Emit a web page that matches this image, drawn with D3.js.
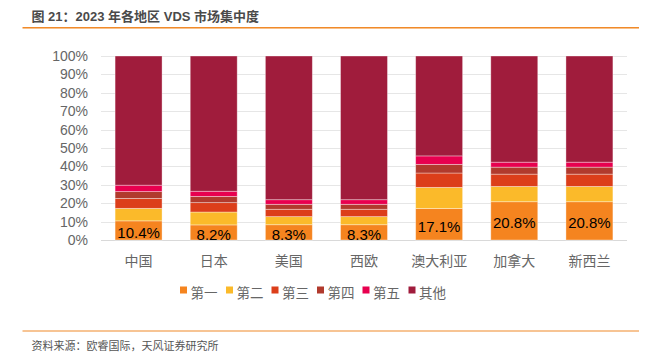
<!DOCTYPE html>
<html><head><meta charset="utf-8">
<script src="https://cdn.jsdelivr.net/npm/d3@7"></script>
<style>body{margin:0;background:#fff;}svg{display:block;font-family:"Liberation Sans","Noto Sans CJK SC",sans-serif;}</style>
</head><body>
<svg id="c" width="647" height="360"></svg>
<script>
const regions = ["中国","日本","美国","西欧","澳大利亚","加拿大","新西兰"];
const seriesNames = ["第一","第二","第三","第四","第五","其他"];
const first  = [10.4, 8.2, 8.3, 8.3, 17.1, 20.8, 20.8];
const second = [6.8, 7.0, 4.4, 4.4, 11.5, 8.3, 8.3];
const third  = [5.4, 5.1, 4.0, 4.0, 7.8, 6.7, 6.7];
const fourth = [3.7, 3.4, 2.7, 2.7, 4.7, 3.8, 3.8];
const fifth  = [3.5, 2.8, 2.5, 2.5, 4.6, 2.7, 2.7];
const other  = [70.2, 73.5, 78.1, 78.1, 54.3, 57.7, 57.7];
const yTicks = [0,10,20,30,40,50,60,70,80,90,100];
const colors = ["#F5841F","#FBBA2A","#DC3E1A","#B13A2D","#E8004F","#A01C3C"];

const svg = d3.select("#c");
// title
svg.append("text").attr("x",31.5).attr("y",20.5).attr("font-size",13).attr("font-weight","bold")
  .attr("fill","#4a4a4a").text("图 21：2023 年各地区 VDS 市场集中度");
svg.append("line").attr("x1",22.5).attr("x2",639).attr("y1",27.5).attr("y2",27.5).attr("stroke","#F08A2A").attr("stroke-width",1);
svg.append("line").attr("x1",22.5).attr("x2",639).attr("y1",28.5).attr("y2",28.5).attr("stroke","#F9C089").attr("stroke-width",1);

const x = d3.scaleBand().domain(regions).range([101,627]).paddingInner(0.375).paddingOuter(0.1875);
const y = d3.scaleLinear().domain([0,100]).range([240,56]);

// grid
svg.append("g").selectAll("line").data(yTicks).join("line")
  .attr("x1",101).attr("x2",627).attr("y1",d=>Math.round(y(d))+0.5).attr("y2",d=>Math.round(y(d))+0.5)
  .attr("stroke",d=>d===0?"#d9d9d9":"#e6e6e6").attr("stroke-width",1);

// y axis labels
const yAxis = d3.axisLeft(y).tickValues(yTicks).tickFormat(d=>d+"%").tickSize(0).tickPadding(0);
const ya = svg.append("g").attr("transform","translate(88,0)").call(yAxis);
ya.select(".domain").remove();
ya.selectAll("text").attr("font-size",14).attr("fill","#666").attr("font-family","Liberation Sans, sans-serif");

// stack
const table = regions.map((r,i)=>({region:r, "第一":first[i], "第二":second[i], "第三":third[i], "第四":fourth[i], "第五":fifth[i], "其他":other[i]}));
const stack = d3.stack().keys(seriesNames)(table);
const g = svg.append("g");
stack.forEach((layer,li)=>{
  g.selectAll(null).data(layer).join("rect")
    .attr("x",d=>x(d.data.region)).attr("width",x.bandwidth())
    .attr("y",d=>y(d[1])).attr("height",d=>y(d[0])-y(d[1]))
    .attr("fill",colors[li]).attr("stroke","rgba(255,255,255,0.45)").attr("stroke-width",0.8);
});
// labels for first
g.selectAll(null).data(stack[0]).join("text")
  .attr("x",d=>x(d.data.region)+x.bandwidth()/2).attr("y",d=>(y(d[0])+y(d[1]))/2+2)
  .attr("text-anchor","middle").attr("dominant-baseline","central")
  .attr("font-size",15).attr("fill","#000").text(d=>d.data["第一"].toFixed(1)+"%");

// x labels
const xAxis = d3.axisBottom(x).tickSize(0).tickPadding(0);
const xa = svg.append("g").attr("transform","translate(0,258.5)").call(xAxis);
xa.select(".domain").remove();
xa.selectAll("text").attr("font-size",14).attr("fill","#666").attr("dy","0.5em").attr("font-family","Noto Sans CJK SC, sans-serif");

// legend
const lx = [180,226,271.5,317,362.5,408.5];
const lg = svg.append("g");
seriesNames.forEach((s,i)=>{
  lg.append("rect").attr("x",lx[i]).attr("y",286.5).attr("width",7).attr("height",7).attr("fill",colors[i]);
  lg.append("text").attr("x",lx[i]+10.5).attr("y",292).attr("dominant-baseline","central")
    .attr("font-size",13.5).attr("fill","#666").attr("font-family","Noto Sans CJK SC, sans-serif").text(s);
});

// footer
svg.append("line").attr("x1",22.5).attr("x2",639).attr("y1",331).attr("y2",331).attr("stroke","#F08A2A").attr("stroke-width",1.2);
svg.append("text").attr("x",31.5).attr("y",345).attr("dominant-baseline","central").attr("font-size",11)
  .attr("fill","#555").attr("font-family","Noto Sans CJK SC, sans-serif").text("资料来源：欧睿国际，天风证券研究所");
</script>
</body></html>
